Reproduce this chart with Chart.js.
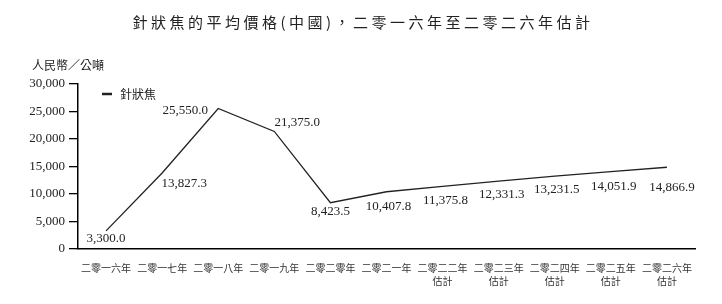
<!DOCTYPE html>
<html>
<head>
<meta charset="utf-8">
<script src="https://cdn.jsdelivr.net/npm/chart.js@4.4.1/dist/chart.umd.min.js"></script>
<style>
  html, body { margin: 0; padding: 0; background: #fff; }
  #wrap { width: 722px; height: 304px; position: relative; }
</style>
</head>
<body>
<div id="wrap"><canvas id="cokeChart"></canvas></div>
<script>
// data
const years = ['二零一六年', '二零一七年', '二零一八年', '二零一九年', '二零二零年', '二零二一年',
               '二零二二年', '二零二三年', '二零二四年', '二零二五年', '二零二六年'];
const isEstimate = [false, false, false, false, false, false, true, true, true, true, true];
const avgPrice = [3300.0, 13827.3, 25550.0, 21375.0, 8423.5, 10407.8, 11375.8, 12331.3, 13231.5, 14051.9, 14866.9];
const seriesName = '針狀焦';
const chartTitle = '針狀焦的平均價格(中國)，二零一六年至二零二六年估計';
const unitLabel = '人民幣／公噸';

// where each value label sits relative to its point (px)
const labelOffsets = [[0, 8], [22, 11], [-33, 2], [23, -9], [0, 9], [2, 15], [3, 14], [3, 13], [2, 13], [3, 15], [5, 20]];

const labels = years.map((y, i) => isEstimate[i] ? [y, '估計'] : y);

const serif = '"Liberation Serif", "Times New Roman", serif';
const cjk = '"Noto Sans CJK TC", "Noto Sans", sans-serif';

const extras = {
    id: 'extras',
    afterDatasetsDraw(chart) {
        const ctx = chart.ctx;
        const meta = chart.getDatasetMeta(0);
        ctx.save();
        ctx.font = '13px ' + serif;
        ctx.fillStyle = '#222';
        ctx.textAlign = 'center';
        ctx.textBaseline = 'middle';
        meta.data.forEach((pt, i) => {
            const v = chart.data.datasets[0].data[i];
            const txt = v.toLocaleString('en-US', { minimumFractionDigits: 1, maximumFractionDigits: 1 });
            ctx.fillText(txt, pt.x + labelOffsets[i][0], pt.y + labelOffsets[i][1]);
        });
        ctx.restore();
    },
    afterDraw(chart) {
        const ctx = chart.ctx;
        const area = chart.chartArea;
        ctx.save();
        // title
        ctx.font = '15px ' + cjk;
        ctx.fillStyle = '#222';
        ctx.textAlign = 'center';
        ctx.textBaseline = 'middle';
        ctx.letterSpacing = '3.5px';
        ctx.fillText(chartTitle, chart.width / 2 + 2, 22);
        ctx.letterSpacing = '0px';
        // unit
        ctx.font = '12px ' + cjk;
        ctx.textAlign = 'left';
        ctx.fillText(unitLabel, 32, 65);
        // legend
        ctx.strokeStyle = '#222';
        ctx.lineWidth = 2.5;
        ctx.beginPath();
        ctx.moveTo(area.left + 24, 94);
        ctx.lineTo(area.left + 34, 94);
        ctx.stroke();
        ctx.fillText(chart.data.datasets[0].label, area.left + 42, 94);
        ctx.restore();
    }
};

new Chart(document.getElementById('cokeChart'), {
    type: 'line',
    data: {
        labels: labels,
        datasets: [{
            label: seriesName,
            data: avgPrice,
            borderColor: '#222',
            backgroundColor: '#222',
            borderWidth: 1.3,
            pointRadius: 0,
            tension: 0,
            fill: false
        }]
    },
    options: {
        responsive: true,
        maintainAspectRatio: false,
        animation: false,
        layout: { padding: { top: 84, right: 27, left: 0, bottom: 0 } },
        plugins: {
            legend: { display: false },
            title: { display: false },
            tooltip: { enabled: false }
        },
        scales: {
            x: {
                offset: true,
                grid: { display: true, drawOnChartArea: false, drawTicks: false },
                border: { display: true, color: '#000', width: 1.5 },
                ticks: {
                    color: '#333',
                    font: { family: cjk, size: 10, lineHeight: 1.3 },
                    padding: 13,
                    maxRotation: 0,
                    autoSkip: false
                },
                afterFit(scale) { scale.height = 55; }
            },
            y: {
                min: 0,
                max: 30000,
                grid: { display: true, drawOnChartArea: false, drawTicks: true, tickLength: 9, color: '#000', lineWidth: 1.3 },
                border: { display: true, color: '#000', width: 1.5 },
                ticks: {
                    stepSize: 5000,
                    color: '#222',
                    padding: 4,
                    font: { family: serif, size: 13 },
                    callback: v => v.toLocaleString('en-US')
                },
                afterFit(scale) { scale.width = 78; }
            }
        }
    },
    plugins: [extras]
});
</script>
</body>
</html>
